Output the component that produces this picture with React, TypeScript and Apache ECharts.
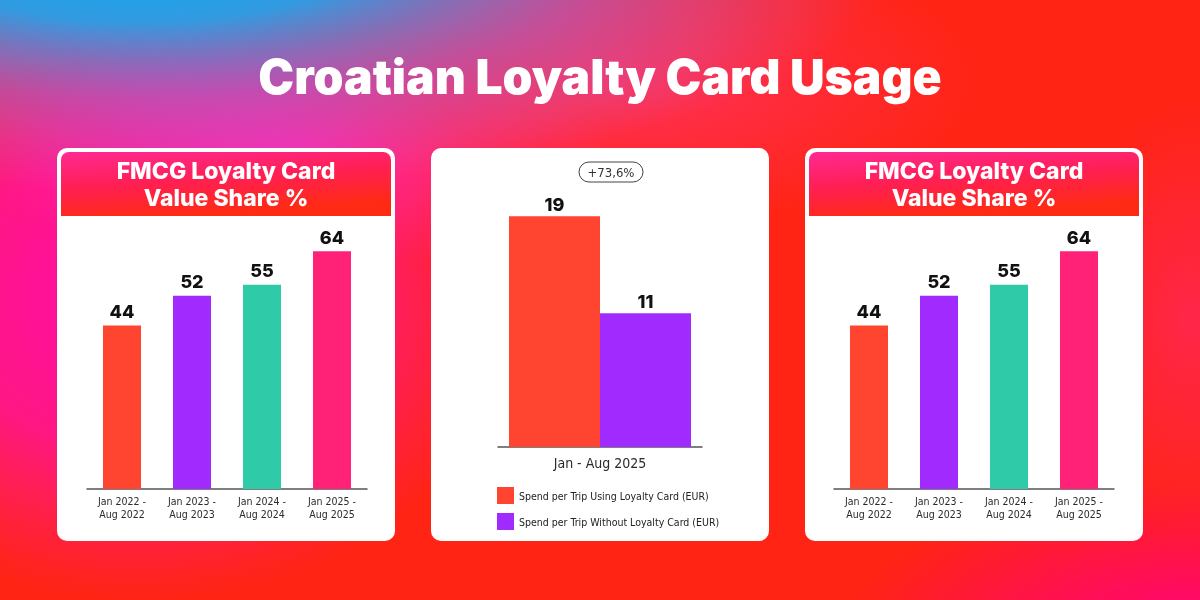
import React, { useEffect, useRef } from "react";
import * as echarts from "echarts";

// ---------- data ----------
const mainTitle = "Croatian Loyalty Card Usage";
const panelTitle = "FMCG Loyalty Card\nValue Share %";
const periods = ["Jan 2022 -\nAug 2022", "Jan 2023 -\nAug 2023", "Jan 2024 -\nAug 2024", "Jan 2025 -\nAug 2025"];
const valueShare = [44, 52, 55, 64];
const periodColors = ["#ff4530", "#a12bff", "#2fcba8", "#ff2277"];
const spendPeriod = ["Jan - Aug 2025"];
const spendNames = ["Spend per Trip Using Loyalty Card (EUR)", "Spend per Trip Without Loyalty Card (EUR)"];
const spendWith = [19];
const spendWithout = [11];
const spendColors = ["#ff4530", "#a12bff"];
const growthLabel = "+73,6%";

const condensed = '"Liberation Sans Narrow", "DejaVu Sans Condensed", "Roboto Condensed", Roboto, sans-serif';
const boldFont = 'Inter, Roboto, sans-serif';

function blob(cx: number, cy: number, rx: number, ry: number, stops: [number, string][], z: number) {
  return {
    type: "rect",
    x: cx,
    y: cy,
    scaleX: rx / 50,
    scaleY: ry / 50,
    shape: { x: -50, y: -50, width: 100, height: 100 },
    style: {
      fill: new echarts.graphic.RadialGradient(0.5, 0.5, 0.5, stops.map(([o, c]) => ({ offset: o, color: c }))),
    },
    silent: true,
    z,
  };
}

function card(x: number, withHeader: boolean) {
  const els: any[] = [
    {
      type: "rect",
      shape: { x, y: 148, width: 338, height: 393, r: 10 },
      style: { fill: "#ffffff" },
      z: -1,
    },
  ];
  if (withHeader) {
    els.push({
      type: "rect",
      shape: { x: x + 4, y: 152, width: 330, height: 64, r: [8, 8, 0, 0] },
      style: {
        fill: new echarts.graphic.LinearGradient(0, 0, 0.35, 1, [
          { offset: 0, color: "#ff2a92" },
          { offset: 0.5, color: "#ff1f55" },
          { offset: 1, color: "#ff2a14" },
        ]),
      },
      z: 0,
    });
    els.push({
      type: "text",
      style: {
        text: panelTitle,
        x: x + 169,
        y: 184,
        align: "center",
        verticalAlign: "middle",
        fill: "#ffffff",
        fontSize: 23,
        fontWeight: 800,
        fontFamily: boldFont,
        lineHeight: 27,
      },
      z: 1,
    });
  }
  return els;
}

function barSeriesFor(gridIndex: number) {
  return {
    type: "bar",
    xAxisIndex: gridIndex,
    yAxisIndex: gridIndex,
    barWidth: 38,
    data: valueShare.map((v, i) => ({ value: v, itemStyle: { color: periodColors[i] } })),
    label: {
      show: true,
      position: "top",
      distance: 5,
      fontSize: 18,
      fontWeight: 800,
      fontFamily: boldFont,
      color: "#111",
    },
  };
}

function catAxis(gridIndex: number, data: string[], fontSize: number, margin: number, lineHeight: number) {
  return {
    type: "category",
    gridIndex,
    data,
    axisTick: { show: false },
    axisLine: { lineStyle: { color: "#555", width: 1.5 } },
    axisLabel: {
      interval: 0,
      fontSize,
      color: "#2a2a2a",
      fontFamily: condensed,
      margin,
      lineHeight,
    },
  };
}

export default function App() {
  const ref = useRef<HTMLDivElement>(null);
  useEffect(() => {
    if (!ref.current) return;
    const chart = echarts.init(ref.current, undefined, { renderer: "svg" });
    const graphics: any[] = [
      { type: "rect", shape: { x: 0, y: 0, width: 1200, height: 600 }, style: { fill: "#ff2414" }, z: -10, silent: true },
      blob(140, 300, 380, 300, [[0, "rgba(255,10,170,1)"], [0.5, "rgba(255,20,160,0.8)"], [1, "rgba(255,30,140,0)"]], -9),
      blob(290, 150, 320, 120, [[0, "rgba(255,40,185,0.9)"], [1, "rgba(255,40,185,0)"]], -8),
      blob(620, 80, 360, 150, [[0, "rgba(255,55,120,0.7)"], [1, "rgba(255,55,120,0)"]], -8),
      blob(1190, 320, 130, 220, [[0, "rgba(255,40,110,0.6)"], [1, "rgba(255,40,110,0)"]], -8),
      blob(1200, 640, 360, 160, [[0, "rgba(255,0,130,1)"], [1, "rgba(255,0,130,0)"]], -8),
      blob(140, -50, 760, 240, [[0, "#00aef2"], [0.3, "rgba(40,160,235,0.95)"], [0.62, "rgba(160,100,210,0.6)"], [1, "rgba(200,90,200,0)"]], -7),
      {
        type: "text",
        style: {
          text: mainTitle,
          x: 600,
          y: 76,
          align: "center",
          verticalAlign: "middle",
          fill: "#ffffff",
          fontSize: 48,
          fontWeight: 900,
          fontFamily: boldFont,
        },
        z: 1,
      },
      ...card(57, true),
      ...card(431, false),
      ...card(805, true),
      {
        type: "rect",
        shape: { x: 579, y: 162, width: 64, height: 20, r: 10 },
        style: { fill: "#ffffff", stroke: "#444", lineWidth: 1 },
        z: 0,
      },
      {
        type: "text",
        style: {
          text: growthLabel,
          x: 611,
          y: 172,
          align: "center",
          verticalAlign: "middle",
          fill: "#333",
          fontSize: 13,
          fontFamily: condensed,
        },
        z: 1,
      },
    ];

    chart.setOption({
      animation: false,
      graphic: { elements: graphics },
      grid: [
        { left: 87, width: 280, top: 229, height: 260 },
        { left: 498, width: 204, top: 204, height: 243 },
        { left: 834, width: 280, top: 229, height: 260 },
      ],
      xAxis: [
        catAxis(0, periods, 10.5, 5, 13),
        catAxis(1, spendPeriod, 14, 8, 16),
        catAxis(2, periods, 10.5, 5, 13),
      ],
      yAxis: [
        { type: "value", gridIndex: 0, min: 0, max: 70, show: false },
        { type: "value", gridIndex: 1, min: 0, max: 20, show: false },
        { type: "value", gridIndex: 2, min: 0, max: 70, show: false },
      ],
      legend: {
        data: spendNames,
        orient: "vertical",
        left: 492,
        top: 482,
        itemWidth: 17,
        itemHeight: 17,
        itemGap: 9,
        icon: "rect",
        textStyle: { fontSize: 10.5, color: "#222", fontFamily: condensed },
      },
      series: [
        barSeriesFor(0),
        {
          name: spendNames[0],
          type: "bar",
          xAxisIndex: 1,
          yAxisIndex: 1,
          barWidth: 91,
          barGap: "0%",
          data: spendWith,
          itemStyle: { color: spendColors[0] },
          label: { show: true, position: "top", distance: 3, fontSize: 18, fontWeight: 800, fontFamily: boldFont, color: "#111" },
        },
        {
          name: spendNames[1],
          type: "bar",
          xAxisIndex: 1,
          yAxisIndex: 1,
          barWidth: 91,
          barGap: "0%",
          data: spendWithout,
          itemStyle: { color: spendColors[1] },
          label: { show: true, position: "top", distance: 3, fontSize: 18, fontWeight: 800, fontFamily: boldFont, color: "#111" },
        },
        barSeriesFor(2),
      ],
    });
    return () => chart.dispose();
  }, []);
  return <div ref={ref} style={{ position: "fixed", left: 0, top: 0, width: 1200, height: 600 }} />;
}
